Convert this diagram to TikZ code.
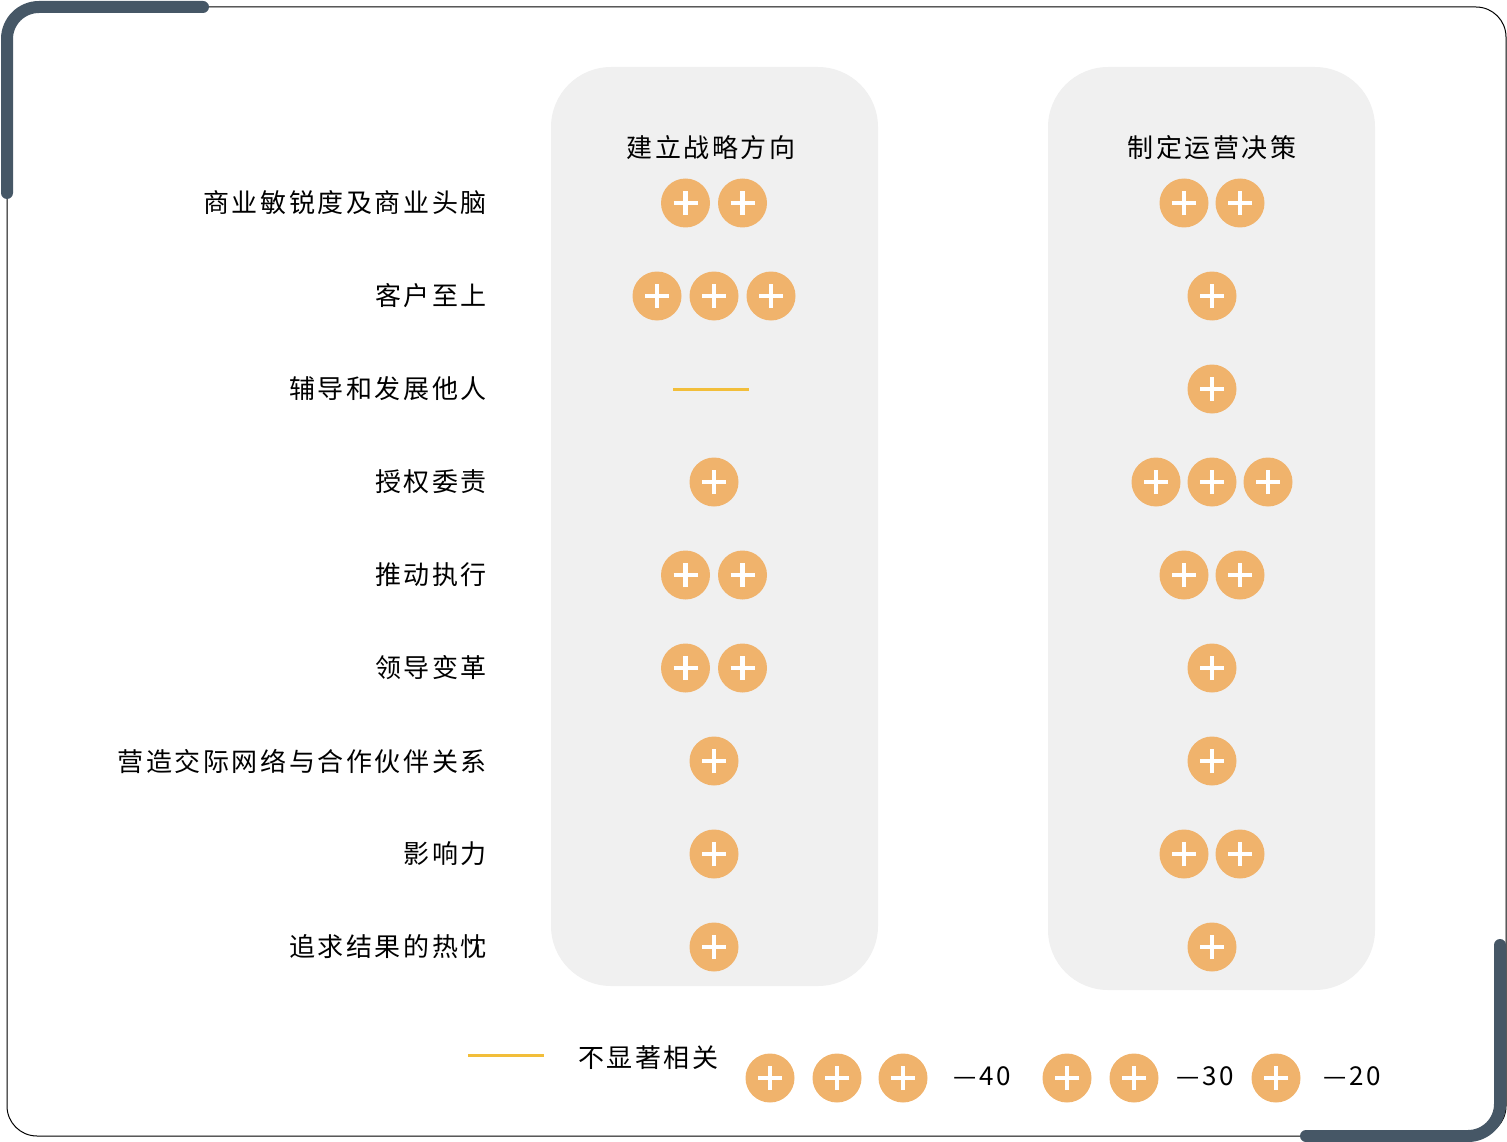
\documentclass[tikz,border=0pt]{standalone}
\usepackage{fontspec}
\setmainfont{Noto Sans CJK SC}[LetterSpace=10]
\definecolor{plusorange}{HTML}{F0B36C}
\definecolor{paneGray}{HTML}{F0F0F0}
\definecolor{frameSlate}{HTML}{465766}
\definecolor{lineYellow}{HTML}{F2BE3A}
\tikzset{
  plus/.style={circle,fill=plusorange,minimum size=49pt,inner sep=0pt,
    path picture={\draw[white,line width=4.5pt]
      ([xshift=-12pt]path picture bounding box.center) -- ([xshift=12pt]path picture bounding box.center)
      ([yshift=-12pt]path picture bounding box.center) -- ([yshift=12pt]path picture bounding box.center);}},
  rowlabel/.style={anchor=east,inner sep=0pt,font=\fontsize{26}{30}\selectfont},
  headlabel/.style={inner sep=0pt,font=\fontsize{26}{30}\selectfont},
  pane/.style={fill=paneGray,rounded corners=60pt},
  nosig/.style={lineYellow,line width=3pt}
}
\begin{document}
\begin{tikzpicture}[x=1pt,y=-1pt]
\useasboundingbox (0,0) rectangle (1507,1142);
% frame
\draw[line width=1pt,rounded corners=30pt] (7,7) rectangle (1506,1136);
\draw[frameSlate,line width=12pt,line cap=round,rounded corners=32pt] (7,193) -- (7,7) -- (203,7);
\draw[frameSlate,line width=12pt,line cap=round,rounded corners=32pt] (1500,945) -- (1500,1136) -- (1306,1136);
% panes
\fill[pane] (551,67) rectangle (878,986);
\fill[pane] (1048,67) rectangle (1375,990);
\node[headlabel] (h1) at (711,148) {建立战略方向};
\node[headlabel] (h2) at (1212,148) {制定运营决策};
% rows: y / label / count col1 / count col2
\foreach \y/\txt/\a/\b [count=\i] in {
  203/商业敏锐度及商业头脑/2/2, 296/客户至上/3/1, 389/辅导和发展他人/0/1,
  482/授权委责/1/3, 575/推动执行/2/2, 668/领导变革/2/1,
  761/营造交际网络与合作伙伴关系/1/1, 854/影响力/1/2, 947/追求结果的热忱/1/1}{
  \node[rowlabel] (r\i) at (487,\y) {\txt};
  \ifnum\a>0
    \foreach \k in {1,...,\a}
      \node[plus] (p\i-1-\k) at ({714+57*(\k-(\a+1)/2)},\y) {};
  \fi
  \foreach \k in {1,...,\b}
    \node[plus] (p\i-2-\k) at ({1212+56*(\k-(\b+1)/2)},\y) {};
}
\draw[nosig] (673,389) -- (749,389);
% legend
\draw[nosig] (468,1055) -- (544,1055);
\node[headlabel,anchor=west] (lg) at (578,1058) {不显著相关};
\foreach \x [count=\j] in {770,837,903,1067,1134,1276}
  \node[plus] (lp\j) at (\x,1078) {};
\node[headlabel,anchor=west] (l40) at (953,1076) {—40};
\node[headlabel,anchor=west] (l30) at (1176,1076) {—30};
\node[headlabel,anchor=west] (l20) at (1323,1076) {—20};
\end{tikzpicture}
\end{document}
